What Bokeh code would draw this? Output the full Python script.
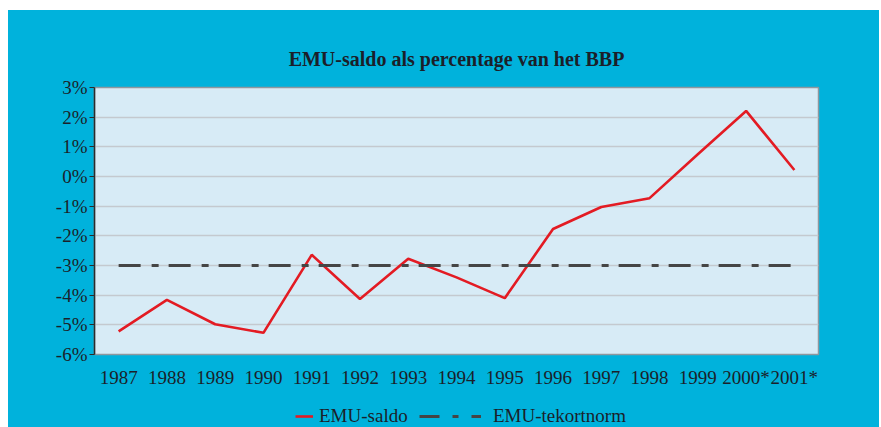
from bokeh.plotting import figure
from bokeh.layouts import column
from bokeh.models import FactorRange, Range1d, FixedTicker, Legend, LegendItem
from bokeh.embed import file_html
from bokeh.resources import INLINE

years = ["1987", "1988", "1989", "1990", "1991", "1992", "1993", "1994",
         "1995", "1996", "1997", "1998", "1999", "2000*", "2001*"]
emu_saldo = [-5.22, -4.16, -4.98, -5.27, -2.64, -4.13, -2.77, -3.40,
             -4.10, -1.77, -1.03, -0.73, 0.75, 2.21, 0.22]
emu_tekortnorm = [-3.0, -3.0, -3.0, -3.0, -3.0, -3.0, -3.0, -3.0,
                  -3.0, -3.0, -3.0, -3.0, -3.0, -3.0, -3.0]
y_ticks = [-6, -5, -4, -3, -2, -1, 0, 1, 2, 3]
title_text = "EMU-saldo als percentage van het BBP"

FONT = "Liberation Serif"
BLUE = "#00b2dc"
TXT = "#1b1f2a"
W = 871
SALDO_STYLE = dict(line_color="#e31b23", line_width=2.6)
NORM_STYLE = dict(line_color="#454545", line_width=3)

# --- main chart ---
p = figure(width=W, height=380, output_backend="svg", toolbar_location=None,
           title=title_text,
           x_range=FactorRange(*years, range_padding=0),
           y_range=Range1d(-6, 3),
           min_border_left=86, min_border_right=61, min_border_top=77, min_border_bottom=30,
           background_fill_color="#d7ebf6", border_fill_color=BLUE,
           outline_line_color="#8f979e", outline_line_width=1.5)

p.title.align = "center"
p.title.offset = 10
p.title.standoff = 36
p.title.text_font = FONT
p.title.text_font_size = "20px"
p.title.text_font_style = "bold"
p.title.text_color = TXT

p.xgrid.grid_line_color = None
p.ygrid.grid_line_color = "#c4c9cf"
p.ygrid.grid_line_width = 1.5

p.yaxis.ticker = FixedTicker(ticks=y_ticks)
p.yaxis.major_label_overrides = {v: f"{v}%" for v in y_ticks}
p.yaxis.axis_line_color = "#2b2b2b"
p.yaxis.axis_line_width = 1.5
p.yaxis.major_tick_line_color = "#2b2b2b"
p.yaxis.major_tick_out = 5
p.yaxis.major_tick_in = 0
p.yaxis.minor_tick_line_color = None
p.yaxis.major_label_standoff = 2

p.xaxis.axis_line_color = None
p.xaxis.major_tick_line_color = None
p.xaxis.major_label_standoff = 6

for ax in (p.xaxis[0], p.yaxis[0]):
    ax.major_label_text_font = FONT
    ax.major_label_text_font_size = "19px"
    ax.major_label_text_color = TXT

p.line(years, emu_saldo, **SALDO_STYLE)
p.line(years, emu_tekortnorm, line_dash="22 11 7 10", **NORM_STYLE)

# --- legend strip (series drawn outside its visible range; only the keys show) ---
LH = 37
lg = figure(width=W, height=LH, output_backend="svg", toolbar_location=None,
            x_axis_type=None, y_axis_type=None,
            x_range=FactorRange(*years, range_padding=0), y_range=Range1d(100, 101),
            min_border_left=86, min_border_right=61, min_border_top=0, min_border_bottom=0,
            background_fill_color=BLUE, border_fill_color=BLUE,
            outline_line_color=None)
k_saldo = lg.line(years, emu_saldo, **SALDO_STYLE)
k_norm = lg.line(years, emu_tekortnorm, line_dash="20 13 6 13", **NORM_STYLE)
common = dict(padding=0, margin=0, border_line_color=None,
              background_fill_alpha=0, label_text_font=FONT,
              label_text_font_size="19px", label_text_color=TXT,
              label_height=22, glyph_height=22)
lg.add_layout(Legend(items=[LegendItem(label="EMU-saldo", renderers=[k_saldo])],
                     location=(201, 0), glyph_width=18, label_standoff=6, **common))
lg.add_layout(Legend(items=[LegendItem(label="EMU-tekortnorm", renderers=[k_norm])],
                     location=(325, 0), glyph_width=62, label_standoff=12, **common))

layout = column(p, lg, spacing=0, margin=(10, 2, 0, 8),
                styles={"background-color": BLUE})
open("out.html", "w").write(file_html(layout, INLINE))
